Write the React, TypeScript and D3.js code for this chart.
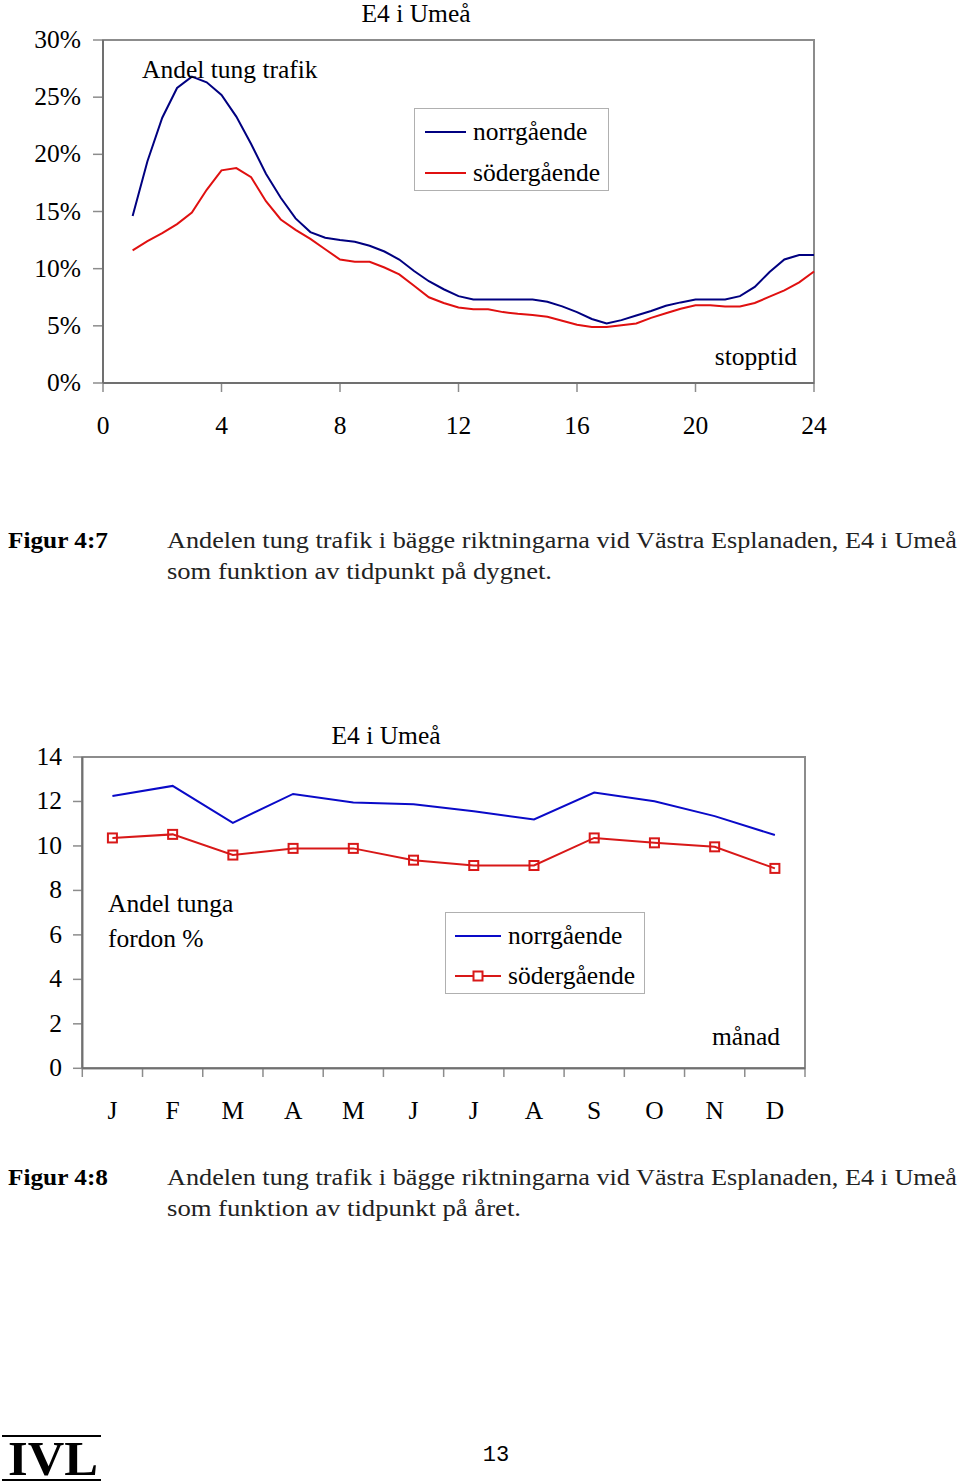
import React from "react";
import * as d3 from "d3";

// ---- Figure 4:7 data (hour of day, % heavy traffic) ----
const hours = [1, 1.5, 2, 2.5, 3, 3.5, 4, 4.5, 5, 5.5, 6, 6.5, 7, 7.5, 8, 8.5, 9, 9.5, 10, 10.5, 11, 11.5, 12, 12.5, 13, 13.5, 14, 14.5, 15, 15.5, 16, 16.5, 17, 17.5, 18, 18.5, 19, 19.5, 20, 20.5, 21, 21.5, 22, 22.5, 23, 23.5, 24];
const norrHour = [14.6, 19.4, 23.2, 25.8, 26.8, 26.3, 25.2, 23.3, 20.9, 18.3, 16.2, 14.4, 13.2, 12.7, 12.5, 12.35, 12.0, 11.5, 10.8, 9.8, 8.9, 8.2, 7.6, 7.3, 7.3, 7.3, 7.3, 7.3, 7.1, 6.7, 6.2, 5.6, 5.2, 5.5, 5.9, 6.3, 6.75, 7.05, 7.3, 7.3, 7.3, 7.6, 8.4, 9.7, 10.8, 11.2, 11.2];
const soderHour = [11.6, 12.4, 13.1, 13.9, 14.9, 16.9, 18.6, 18.8, 18.0, 15.9, 14.3, 13.4, 12.6, 11.7, 10.8, 10.6, 10.6, 10.1, 9.5, 8.5, 7.5, 7.0, 6.6, 6.45, 6.45, 6.2, 6.05, 5.95, 5.8, 5.45, 5.1, 4.9, 4.9, 5.05, 5.2, 5.7, 6.1, 6.5, 6.8, 6.8, 6.7, 6.7, 7.0, 7.55, 8.1, 8.8, 9.75];
const hourTicks = [0, 4, 8, 12, 16, 20, 24];
const pctTicks = [0, 5, 10, 15, 20, 25, 30];

// ---- Figure 4:8 data (month, % heavy vehicles) ----
const months = ["J", "F", "M", "A", "M", "J", "J", "A", "S", "O", "N", "D"];
const norrMonth = [12.25, 12.7, 11.04, 12.34, 11.95, 11.88, 11.56, 11.19, 12.4, 12.01, 11.34, 10.49];
const soderMonth = [10.36, 10.52, 9.59, 9.89, 9.89, 9.36, 9.12, 9.12, 10.36, 10.14, 9.96, 8.99];
const monthValTicks = [0, 2, 4, 6, 8, 10, 12, 14];

const serif = "'Liberation Serif', 'Times New Roman', serif";
const FS = 25.5;

function TopChart() {
  const x = d3.scaleLinear().domain([0, 24]).range([103, 814]);
  const y = d3.scaleLinear().domain([0, 30]).range([383, 40]);
  const line = d3.line<number>().x((_, i) => x(hours[i])).y((d) => y(d));
  return (
    <g fontFamily={serif} fontSize={FS} fill="#000">
      <text x={416} y={22} textAnchor="middle">E4 i Umeå</text>
      <rect x={103} y={40} width={711} height={343} fill="none" stroke="#8c8c8c" strokeWidth={2} />
      {pctTicks.map((t) => (
        <g key={t}>
          <line x1={93} x2={103} y1={y(t)} y2={y(t)} stroke="#8c8c8c" strokeWidth={1.5} />
          <text x={81} y={y(t) + 8} textAnchor="end">{t}%</text>
        </g>
      ))}
      {hourTicks.map((t) => (
        <g key={t}>
          <line x1={x(t)} x2={x(t)} y1={383} y2={392} stroke="#8c8c8c" strokeWidth={1.5} />
          <text x={x(t)} y={434} textAnchor="middle">{t}</text>
        </g>
      ))}
      <line x1={103} x2={814} y1={383} y2={383} stroke="#707070" strokeWidth={2} />
      <line x1={103} x2={103} y1={40} y2={383} stroke="#707070" strokeWidth={2} />
      <path d={line(norrHour) || ""} fill="none" stroke="#000080" strokeWidth={2} />
      <path d={line(soderHour) || ""} fill="none" stroke="#e01010" strokeWidth={2} />
      <text x={142} y={78}>Andel tung trafik</text>
      <rect x={414.5} y={108.5} width={194} height={82} fill="#fff" stroke="#b0b0b0" strokeWidth={1} />
      <line x1={425} x2={466} y1={132} y2={132} stroke="#000080" strokeWidth={2} />
      <text x={473} y={140}>norrgående</text>
      <line x1={425} x2={466} y1={173} y2={173} stroke="#e01010" strokeWidth={2} />
      <text x={473} y={181}>södergående</text>
      <text x={797} y={365} textAnchor="end">stopptid</text>
    </g>
  );
}

function BottomChart() {
  const x = d3.scaleBand<number>().domain(d3.range(12)).range([82.3, 805]).padding(0);
  const cx = (i: number) => (x(i) || 0) + x.bandwidth() / 2;
  const y = d3.scaleLinear().domain([0, 14]).range([1068.3, 757]);
  const line = d3.line<number>().x((_, i) => cx(i)).y((d) => y(d));
  const boundaries = d3.range(13).map((i) => 82.3 + i * x.bandwidth());
  return (
    <g fontFamily={serif} fontSize={FS} fill="#000">
      <text x={386} y={744} textAnchor="middle">E4 i Umeå</text>
      <rect x={82.3} y={757} width={722.7} height={311.3} fill="none" stroke="#8c8c8c" strokeWidth={2} />
      {monthValTicks.map((t) => (
        <g key={t}>
          <line x1={73} x2={82} y1={y(t)} y2={y(t)} stroke="#8c8c8c" strokeWidth={1.5} />
          <text x={62} y={y(t) + 8} textAnchor="end">{t}</text>
        </g>
      ))}
      {boundaries.map((b, i) => (
        <line key={i} x1={b} x2={b} y1={1068} y2={1077} stroke="#8c8c8c" strokeWidth={1.5} />
      ))}
      {months.map((m, i) => (
        <text key={i} x={cx(i)} y={1119} textAnchor="middle">{m}</text>
      ))}
      <line x1={82.3} x2={805} y1={1068.3} y2={1068.3} stroke="#707070" strokeWidth={2} />
      <line x1={82.3} x2={82.3} y1={757} y2={1068.3} stroke="#707070" strokeWidth={2} />
      <path d={line(norrMonth) || ""} fill="none" stroke="#0a0ac8" strokeWidth={2} />
      <path d={line(soderMonth) || ""} fill="none" stroke="#d81818" strokeWidth={2} />
      {soderMonth.map((v, i) => (
        <rect key={i} x={cx(i) - 4.5} y={y(v) - 4.5} width={9} height={9} fill="none" stroke="#d81818" strokeWidth={2} />
      ))}
      <text x={108} y={912}>Andel tunga</text>
      <text x={108} y={947}>fordon %</text>
      <rect x={445.5} y={912.5} width={199} height={81} fill="#fff" stroke="#b0b0b0" strokeWidth={1} />
      <line x1={455} x2={501} y1={936} y2={936} stroke="#0a0ac8" strokeWidth={2} />
      <text x={508} y={944}>norrgående</text>
      <line x1={455} x2={501} y1={976} y2={976} stroke="#d81818" strokeWidth={2} />
      <rect x={473.5} y={971.5} width={9} height={9} fill="#fff" stroke="#d81818" strokeWidth={2} />
      <text x={508} y={984}>södergående</text>
      <text x={780} y={1045} textAnchor="end">månad</text>
    </g>
  );
}

export default function App() {
  return (
    <svg width={960} height={1484} style={{ position: "absolute", left: 0, top: 0, background: "#fff" }}>
      <rect width={960} height={1484} fill="#fff" />
      <TopChart />
      <g fontFamily={serif} fontSize={24} fill="#000">
        <text x={8} y={548} fontWeight="bold" textLength={100} lengthAdjust="spacingAndGlyphs">Figur 4:7</text>
        <text x={167} y={548} textLength={790} lengthAdjust="spacingAndGlyphs" fill="#222">Andelen tung trafik i bägge riktningarna vid Västra Esplanaden, E4 i Umeå</text>
        <text x={167} y={579} textLength={385} lengthAdjust="spacingAndGlyphs" fill="#222">som funktion av tidpunkt på dygnet.</text>
      </g>
      <BottomChart />
      <g fontFamily={serif} fontSize={24} fill="#000">
        <text x={8} y={1185} fontWeight="bold" textLength={100} lengthAdjust="spacingAndGlyphs">Figur 4:8</text>
        <text x={167} y={1185} textLength={790} lengthAdjust="spacingAndGlyphs" fill="#222">Andelen tung trafik i bägge riktningarna vid Västra Esplanaden, E4 i Umeå</text>
        <text x={167} y={1216} textLength={354} lengthAdjust="spacingAndGlyphs" fill="#222">som funktion av tidpunkt på året.</text>
      </g>
      <text x={496} y={1461} textAnchor="middle" fontFamily="'Liberation Mono', 'DejaVu Sans Mono', monospace" fontSize={22}>13</text>
      <line x1={2} x2={101} y1={1436} y2={1436} stroke="#000" strokeWidth={2} />
      <line x1={2} x2={101} y1={1480} y2={1480} stroke="#000" strokeWidth={2} />
      <text x={8} y={1475} fontFamily={serif} fontWeight="bold" fontSize={48} textLength={90} lengthAdjust="spacingAndGlyphs">IVL</text>
    </svg>
  );
}
